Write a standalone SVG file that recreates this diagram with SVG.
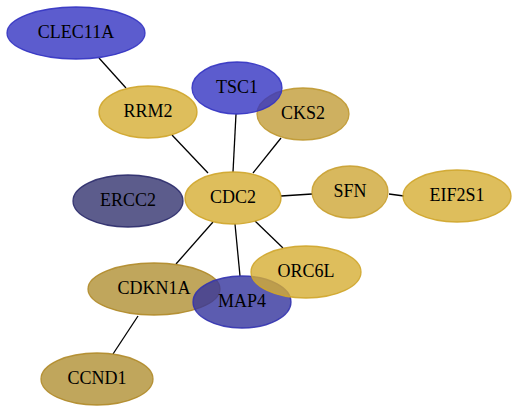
<svg xmlns="http://www.w3.org/2000/svg" width="517" height="413" viewBox="0 0 517 413">
<style>
.e{stroke:#000;stroke-width:1.3;fill:none}
.n ellipse{stroke-width:1.3;fill-opacity:0.8;stroke-opacity:0.9}
.b ellipse{fill:#3333c2;stroke:#3333c2}
.g ellipse{fill:#d6ae33;stroke:#cfa52a}
.s ellipse{fill:#cea636;stroke:#c9a030}
.c ellipse{fill:#c29c38;stroke:#bf9830}
.d ellipse{fill:#b09033;stroke:#b08a28}
.m ellipse{fill:#33339c;stroke:#3333b0}
.k ellipse{fill:#33336f;stroke:#2a2a6a}
text{font-family:"Liberation Serif","Times New Roman",serif;font-size:18px;text-anchor:middle;fill:#000}
</style>
<rect width="517" height="413" fill="#fff"/>
<g id="edges">
<line class="e" x1="99" y1="58" x2="126" y2="88"/>
<line class="e" x1="172" y1="135" x2="208" y2="173"/>
<line class="e" x1="236" y1="114" x2="233" y2="172"/>
<line class="e" x1="281" y1="138" x2="253" y2="173"/>
<line class="e" x1="281" y1="196" x2="312" y2="194"/>
<line class="e" x1="389" y1="194" x2="404" y2="196"/>
<line class="e" x1="255" y1="221" x2="283" y2="248"/>
<line class="e" x1="235" y1="224" x2="240" y2="276"/>
<line class="e" x1="213" y1="222" x2="176" y2="264"/>
<line class="e" x1="138" y1="316" x2="113" y2="354"/>
</g>
<g id="CLEC11A" class="n b"><ellipse cx="76" cy="33" rx="69" ry="26"/><text x="76" y="38">CLEC11A</text></g>
<g id="RRM2" class="n g"><ellipse cx="148" cy="112" rx="49" ry="26"/><text x="148" y="117">RRM2</text></g>
<g id="CKS2" class="n c"><ellipse cx="303" cy="114" rx="46" ry="26"/><text x="303" y="119">CKS2</text></g>
<g id="TSC1" class="n b"><ellipse cx="237" cy="88" rx="45" ry="26"/><text x="237" y="93">TSC1</text></g>
<g id="ERCC2" class="n k"><ellipse cx="128" cy="201" rx="55" ry="26"/><text x="128" y="206">ERCC2</text></g>
<g id="CDC2" class="n g"><ellipse cx="233" cy="198" rx="48" ry="26"/><text x="233" y="203">CDC2</text></g>
<g id="SFN" class="n s"><ellipse cx="350" cy="192" rx="38" ry="26"/><text x="350" y="197">SFN</text></g>
<g id="EIF2S1" class="n g"><ellipse cx="457" cy="196" rx="54" ry="26"/><text x="457" y="201">EIF2S1</text></g>
<g id="CDKN1A" class="n d"><ellipse cx="154" cy="289" rx="66" ry="26"/><text x="154" y="294">CDKN1A</text></g>
<g id="MAP4" class="n m"><ellipse cx="242" cy="302" rx="49" ry="26"/><text x="242" y="307">MAP4</text></g>
<g id="ORC6L" class="n g"><ellipse cx="306" cy="272" rx="55" ry="26"/><text x="306" y="277">ORC6L</text></g>
<g id="CCND1" class="n d"><ellipse cx="97" cy="379" rx="56" ry="26"/><text x="97" y="384">CCND1</text></g>
</svg>
